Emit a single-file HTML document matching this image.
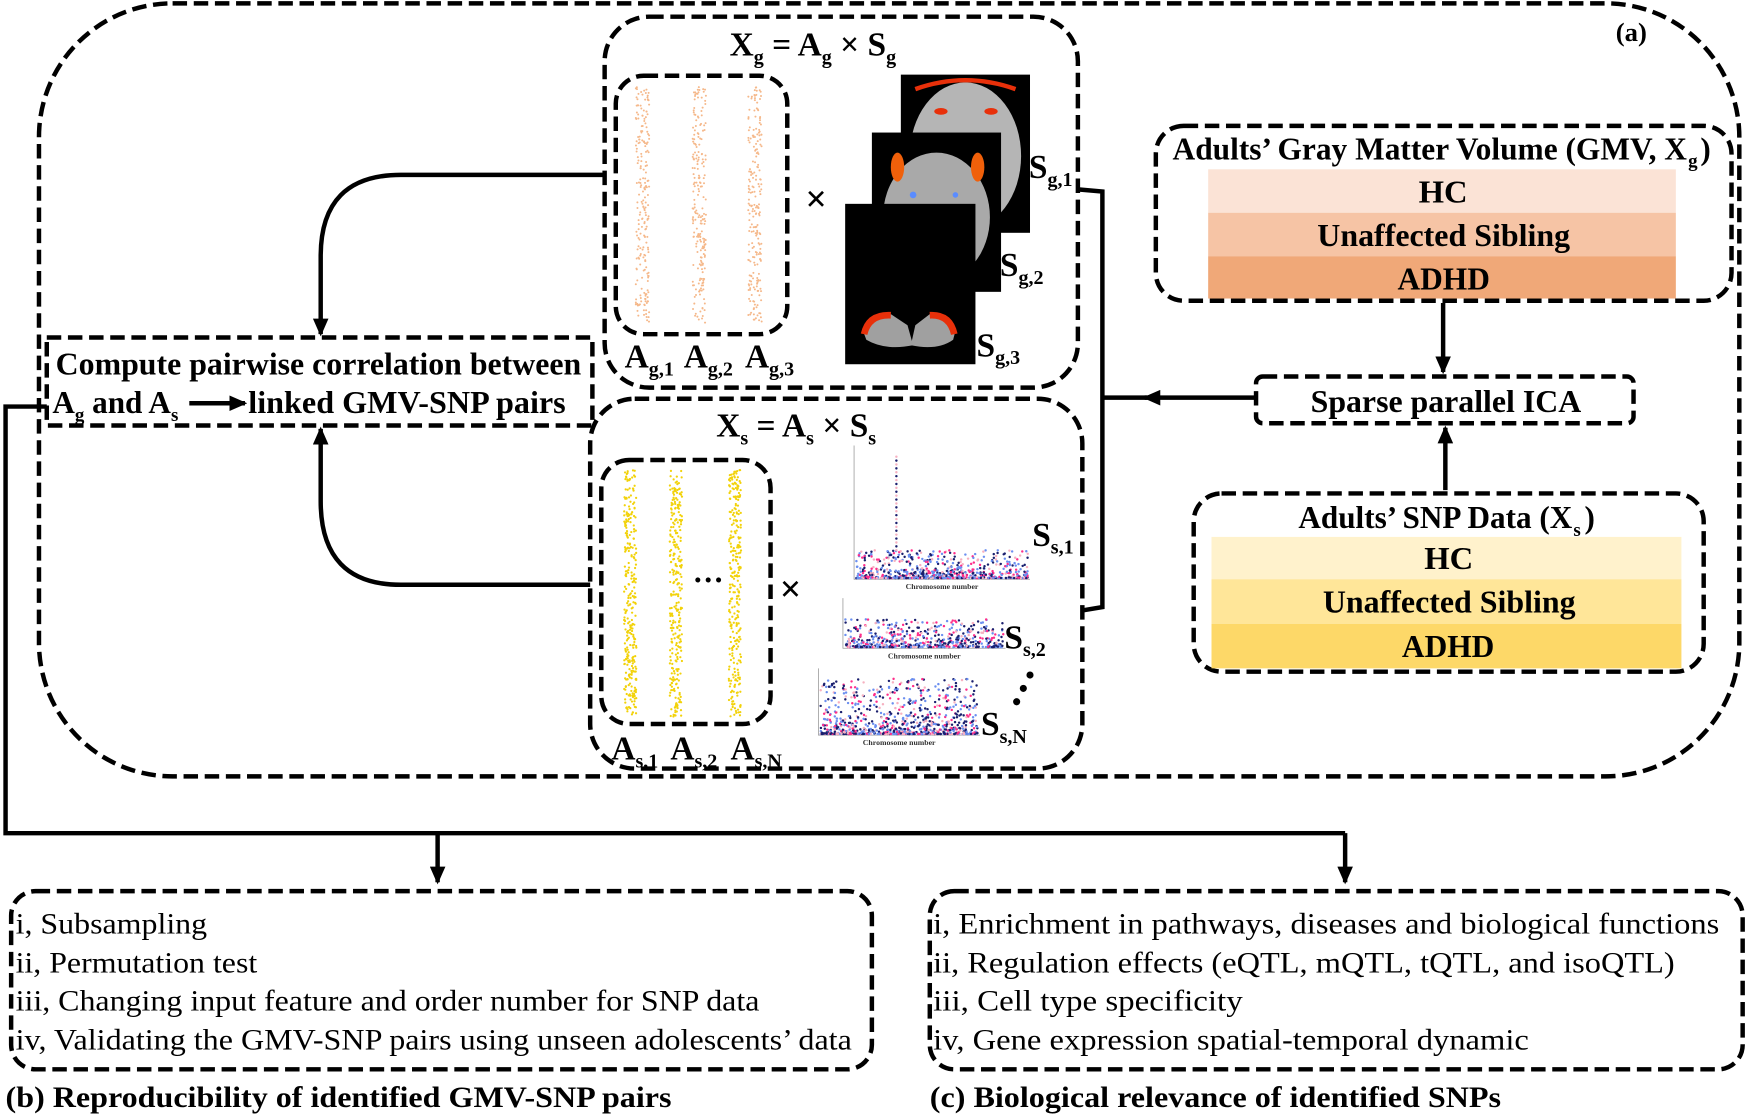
<!DOCTYPE html>
<html><head><meta charset="utf-8"><style>
html,body{margin:0;padding:0;background:#fff}
svg{display:block}
text{font-family:"Liberation Serif","Times New Roman",serif}
.b{font-weight:bold}
</style></head><body>
<svg id="s" width="1746" height="1115" viewBox="0 0 1568 1001" preserveAspectRatio="none" xmlns="http://www.w3.org/2000/svg">
<defs>
<marker id="ah" markerWidth="16" markerHeight="14" refX="14" refY="7" orient="auto" markerUnits="userSpaceOnUse"><path d="M0,0 L16,7 L0,14 z" fill="#000"/></marker>
</defs>
<g fill="none" stroke="#000" stroke-width="4" stroke-dasharray="13 6">
<rect x="35" y="3" width="1527" height="694" rx="120"/>
<rect x="543" y="15" width="425" height="333" rx="40"/>
<rect x="553" y="68" width="154" height="232" rx="25"/>
<rect x="530" y="358" width="442" height="332" rx="40"/>
<rect x="540" y="413" width="152" height="237" rx="25"/>
<rect x="42" y="303" width="490" height="79"/>
<rect x="1038" y="113" width="517" height="157" rx="25"/>
<rect x="1128" y="338" width="339" height="42" rx="6"/>
<rect x="1072" y="443" width="458" height="160" rx="25"/>
<rect x="10" y="800" width="773" height="160" rx="22"/>
<rect x="835" y="800" width="730" height="160" rx="22"/>
</g>
<text x="1465" y="37" class="b" font-size="24" text-anchor="middle">(a)</text>
<!-- top panel -->
<text x="730" y="50" class="b" font-size="30" text-anchor="middle">X<tspan font-size="18" dy="7">g</tspan><tspan dy="-7"> = A</tspan><tspan font-size="18" dy="7">g</tspan><tspan dy="-7"> × S</tspan><tspan font-size="18" dy="7">g</tspan></text>
<g id="dotsG"></g>
<text x="733" y="190" class="b" font-size="34" text-anchor="middle">×</text>
<rect x="809" y="67" width="116" height="142" fill="#000"/>
<ellipse cx="867" cy="140" rx="50" ry="66" fill="#b5b5b5"/>
<path d="M822,80 Q867,64 912,80" stroke="#e8300a" stroke-width="4" fill="none"/>
<ellipse cx="845" cy="100" rx="6" ry="3" fill="#e8300a"/><ellipse cx="890" cy="100" rx="6" ry="3" fill="#e8300a"/>
<rect x="783" y="119" width="116" height="143" fill="#000"/>
<ellipse cx="841" cy="195" rx="48" ry="58" fill="#a9a9a9"/>
<ellipse cx="806" cy="150" rx="6" ry="13" fill="#f0600a"/><ellipse cx="878" cy="150" rx="6" ry="13" fill="#f0600a"/>
<circle cx="820" cy="175" r="3" fill="#5a8cff"/><circle cx="858" cy="175" r="2.5" fill="#5a8cff"/>
<rect x="759" y="183" width="117" height="144" fill="#000"/>
<path d="M775,297 Q780,280 800,282 L815,292 L820,310 Q795,315 778,305 z" fill="#a0a0a0"/>
<path d="M858,297 Q853,280 835,282 L822,292 L818,310 Q842,315 856,305 z" fill="#a0a0a0"/>
<path d="M776,300 Q780,282 800,283" stroke="#e8300a" stroke-width="6" fill="none"/>
<path d="M857,300 Q853,282 835,283" stroke="#e8300a" stroke-width="6" fill="none"/>
<g class="b" font-size="30">
<text x="924" y="160">S<tspan font-size="18" dy="7">g,1</tspan></text>
<text x="898" y="248">S<tspan font-size="18" dy="7">g,2</tspan></text>
<text x="877" y="320">S<tspan font-size="18" dy="7">g,3</tspan></text>
<text x="561" y="330">A<tspan font-size="18" dy="7">g,1</tspan></text>
<text x="614" y="330">A<tspan font-size="18" dy="7">g,2</tspan></text>
<text x="669" y="330">A<tspan font-size="18" dy="7">g,3</tspan></text>
</g>
<!-- bottom panel -->
<text x="715" y="392" class="b" font-size="30" text-anchor="middle">X<tspan font-size="18" dy="7">s</tspan><tspan dy="-7"> = A</tspan><tspan font-size="18" dy="7">s</tspan><tspan dy="-7"> × S</tspan><tspan font-size="18" dy="7">s</tspan></text>
<g id="dotsS"></g>
<text x="636" y="530" class="b" font-size="28" text-anchor="middle">···</text>
<text x="710" y="540" class="b" font-size="34" text-anchor="middle">×</text>
<g id="man"></g>
<g class="b" font-size="30">
<text x="927" y="490">S<tspan font-size="18" dy="7">s,1</tspan></text>
<text x="902" y="582">S<tspan font-size="18" dy="7">s,2</tspan></text>
<text x="881" y="660">S<tspan font-size="18" dy="7">s,N</tspan></text>
<text x="549" y="682">A<tspan font-size="18" dy="7">s,1</tspan></text>
<text x="602" y="682">A<tspan font-size="18" dy="7">s,2</tspan></text>
<text x="656" y="682">A<tspan font-size="18" dy="7">s,N</tspan></text>
</g>
<circle cx="913" cy="630" r="3.2"/><circle cx="919" cy="618" r="3.2"/><circle cx="925" cy="606" r="3.2"/>
<!-- compute box -->
<text x="50" y="336" class="b" font-size="28" textLength="472" lengthAdjust="spacingAndGlyphs">Compute pairwise correlation between</text>
<text x="47" y="371" class="b" font-size="28">A<tspan font-size="17" dy="7">g</tspan><tspan dy="-7"> and A</tspan><tspan font-size="17" dy="7">s</tspan></text>
<line x1="170" y1="362" x2="220" y2="362" stroke="#000" stroke-width="4" marker-end="url(#ah)"/>
<text x="223" y="371" class="b" font-size="28" textLength="285" lengthAdjust="spacingAndGlyphs">linked GMV-SNP pairs</text>
<!-- arrows -->
<g fill="none" stroke="#000" stroke-width="4">
<path d="M543,157 L360,157 Q288,157 288,230 L288,300" marker-end="url(#ah)"/>
<path d="M530,525 L360,525 Q288,525 288,450 L288,385" marker-end="url(#ah)"/>
<path d="M968,170 L990,172 L990,545 L972,548"/>
<path d="M1128,357 L1028,357" marker-end="url(#ah)"/>
<path d="M990,357 L1030,357"/>
<path d="M1296,272 L1296,334" marker-end="url(#ah)"/>
<path d="M1298,440 L1298,384" marker-end="url(#ah)"/>
<path d="M42,365 L5,365 L5,748 L1208,748"/>
<path d="M393,748 L393,792" marker-end="url(#ah)"/>
<path d="M1208,748 L1208,792" marker-end="url(#ah)"/>
</g>
<!-- GMV -->
<g class="b" font-size="28">
<text x="1053" y="143" textLength="462" lengthAdjust="spacingAndGlyphs">Adults’ Gray Matter Volume (GMV, X</text>
<text x="1516" y="150" font-size="17">g</text>
<text x="1527" y="143">)</text>
</g>
<rect x="1085" y="152" width="420" height="39" fill="#fbe3d6"/>
<rect x="1085" y="191" width="420" height="39" fill="#f6c4a5"/>
<rect x="1085" y="230" width="420" height="38" fill="#f0a878"/>
<g class="b" font-size="28">
<text x="1274" y="182" textLength="44" lengthAdjust="spacingAndGlyphs">HC</text>
<text x="1183" y="221" textLength="227" lengthAdjust="spacingAndGlyphs">Unaffected Sibling</text>
<text x="1255" y="260" textLength="83" lengthAdjust="spacingAndGlyphs">ADHD</text>
<text x="1177" y="370" textLength="243" lengthAdjust="spacingAndGlyphs">Sparse parallel ICA</text>
<text x="1166" y="474" textLength="246" lengthAdjust="spacingAndGlyphs">Adults’ SNP Data (X</text>
<text x="1413" y="481" font-size="17">s</text>
<text x="1423" y="474">)</text>
</g>
<rect x="1088" y="482" width="422" height="38" fill="#fff2cc"/>
<rect x="1088" y="520" width="422" height="40" fill="#ffe699"/>
<rect x="1088" y="560" width="422" height="40" fill="#fdd868"/>
<g class="b" font-size="28">
<text x="1279" y="511" textLength="44" lengthAdjust="spacingAndGlyphs">HC</text>
<text x="1188" y="550" textLength="227" lengthAdjust="spacingAndGlyphs">Unaffected Sibling</text>
<text x="1259" y="590" textLength="83" lengthAdjust="spacingAndGlyphs">ADHD</text>
</g>
<!-- bottom boxes -->
<g font-size="27">
<text x="14" y="838" textLength="172" lengthAdjust="spacingAndGlyphs">i, Subsampling</text>
<text x="14" y="873" textLength="217" lengthAdjust="spacingAndGlyphs">ii, Permutation test</text>
<text x="14" y="907" textLength="668" lengthAdjust="spacingAndGlyphs">iii, Changing input feature and order number for SNP data</text>
<text x="14" y="942" textLength="751" lengthAdjust="spacingAndGlyphs">iv, Validating the GMV-SNP pairs using unseen adolescents’ data</text>
<text x="838" y="838" textLength="706" lengthAdjust="spacingAndGlyphs">i, Enrichment in pathways, diseases and biological functions</text>
<text x="838" y="873" textLength="666" lengthAdjust="spacingAndGlyphs">ii, Regulation effects (eQTL, mQTL, tQTL, and isoQTL)</text>
<text x="838" y="907" textLength="278" lengthAdjust="spacingAndGlyphs">iii, Cell type specificity</text>
<text x="838" y="942" textLength="535" lengthAdjust="spacingAndGlyphs">iv, Gene expression spatial-temporal dynamic</text>
</g>
<text x="5" y="994" class="b" font-size="27" textLength="598" lengthAdjust="spacingAndGlyphs">(b) Reproducibility of identified GMV-SNP pairs</text>
<text x="835" y="994" class="b" font-size="27" textLength="513" lengthAdjust="spacingAndGlyphs">(c) Biological relevance of identified SNPs</text>
</svg>
<script>
var NS="http://www.w3.org/2000/svg";
var seed=7;function r(){seed=(seed*16807)%2147483647;return seed/2147483647;}
function dot(g,x,y,rad,c){var e=document.createElementNS(NS,"circle");e.setAttribute("cx",x);e.setAttribute("cy",y);e.setAttribute("r",rad);e.setAttribute("fill",c);g.appendChild(e);}
var gG=document.getElementById("dotsG");
[577,628,678].forEach(function(cx){for(var i=0;i<220;i++){dot(gG,cx+(r()-0.5)*12,78+r()*212,0.9,"#f5b88a");}});
var gS=document.getElementById("dotsS");
[566,607,660].forEach(function(cx){for(var i=0;i<300;i++){dot(gS,cx+(r()-0.5)*11,422+r()*222,1,"#f2d20a");}});
var m=document.getElementById("man");
var cols=["#1a1f6e","#1a1f6e","#6b8ff0","#6b8ff0","#ff2d8a","#f6b0c0"];
function plot(x0,x1,base,h,n,spread){
 var ax=document.createElementNS(NS,"path");ax.setAttribute("d","M"+x0+","+(base-h)+" L"+x0+","+base+" L"+x1+","+base);ax.setAttribute("stroke","#999");ax.setAttribute("fill","none");ax.setAttribute("stroke-width","0.7");m.appendChild(ax);
 for(var i=0;i<n;i++){var x=x0+2+r()*(x1-x0-4);var y=base-1-Math.pow(r(),3)*spread;dot(m,x,y,1.1,cols[Math.floor(r()*6)]);}
 var t=document.createElementNS(NS,"text");t.setAttribute("x",(x0+x1)/2);t.setAttribute("y",base+9);t.setAttribute("font-size","7");t.setAttribute("text-anchor","middle");t.setAttribute("font-family","Liberation Sans");t.setAttribute("font-weight","bold");t.setAttribute("fill","#333");t.textContent="Chromosome number";m.appendChild(t);
}
plot(767,925,520,120,700,25);
for(var i=0;i<25;i++)dot(m,805,410+i*3.5,1.1,i%2?"#1a1f6e":"#f6b0c0");
plot(757,903,582,45,600,25);
plot(735,880,660,60,900,50);
</script>
</body></html>
